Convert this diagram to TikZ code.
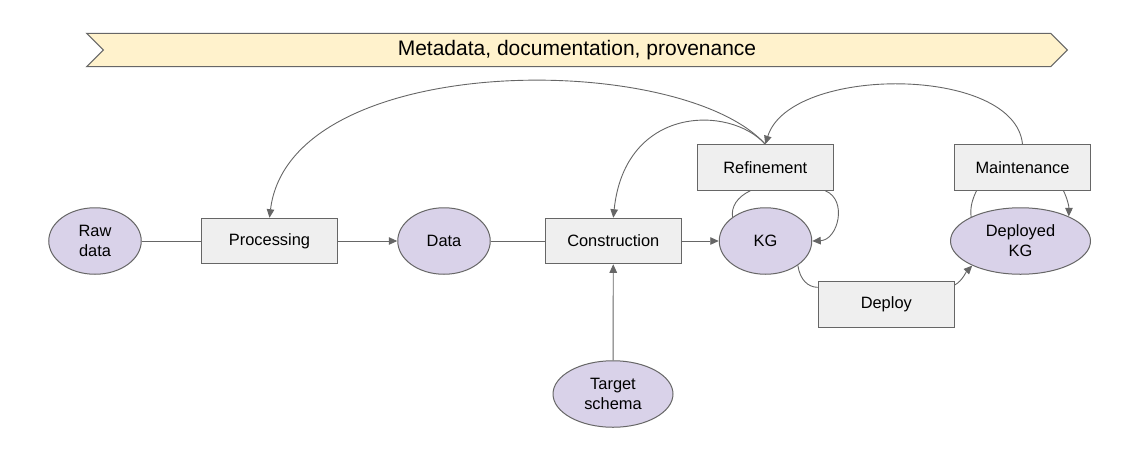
\documentclass[tikz,border=0pt]{standalone}
\usepackage{fontspec}
\setmainfont{Liberation Sans}
\usetikzlibrary{shapes.geometric,arrows.meta}
\definecolor{caixa}{HTML}{EFEFEF}
\definecolor{elipse}{HTML}{D9D2E9}
\definecolor{faixa}{HTML}{FFF2CC}
\definecolor{linha}{HTML}{666666}
\begin{document}
\begin{tikzpicture}[x=1pt, y=-1pt,
        etapa/.style={draw=linha, fill=caixa, line width=1pt, minimum width=136.5pt, minimum height=45.5pt, inner sep=0pt, font=\fontsize{16.4}{20}\selectfont},
        dado/.style={ellipse, draw=linha, fill=elipse, line width=1pt, minimum width=92.5pt, minimum height=66.5pt, inner sep=0pt, align=center, font=\fontsize{16.4}{20}\selectfont},
        liga/.style={draw=linha, line width=0.9pt},
        flecha/.style={liga, -{Triangle[length=8.5pt,width=7.5pt]}}]
        \useasboundingbox (0, 0) rectangle (1130, 451);

        %Faixa
        \draw[draw=linha, fill=faixa, line width=1pt] (86.7, 33.3) -- (1050.7, 33.3) -- (1067.3, 50) -- (1050.7, 66.7) -- (86.7, 66.7) -- (103.3, 50) -- cycle;
        \node (meta) at (577, 50) {\fontsize{21}{25}\selectfont Metadata, documentation, provenance};

        %Elipses
        \node[dado] (raw) at (95, 241) {Raw\\data};
        \node[dado] (data) at (444, 241) {Data};
        \node[dado] (kg) at (765.5, 241) {KG};
        \node[dado, minimum width=140pt] (dkg) at (1020.5, 241) {Deployed\\KG};
        \node[dado, minimum width=120pt] (target) at (613, 394) {Target\\schema};

        %Caixas
        \node[etapa] (proc) at (269.5, 241) {Processing};
        \node[etapa] (constr) at (613.3, 241) {Construction};
        \node[etapa] (refine) at (765.3, 167.5) {Refinement};
        \node[etapa] (maint) at (1022.5, 167.5) {Maintenance};
        \node[etapa] (deploy) at (886.3, 304.5) {Deploy};

        %Retas
        \draw[liga] (raw) -- (proc);
        \draw[flecha] (proc) -- (data);
        \draw[liga] (data) -- (constr);
        \draw[flecha] (constr) -- (kg);
        \draw[flecha] (target) -- (constr);

        %Curvas
        \draw[flecha] (refine.north) .. controls (680, 50) and (290, 50) .. (proc.north);
        \draw[flecha] (refine.north) .. controls (730, 105) and (625, 105) .. (constr.north);
        \draw[flecha] (maint.north) .. controls (1015, 65) and (790, 65) .. (refine.north);
        \draw[liga] ([xshift=-15pt]refine.south) .. controls (737, 197) and (731, 207) .. (kg.144);
        \draw[flecha] ([xshift=60pt]refine.south) .. controls (848, 200) and (838, 240) .. (kg.east);
        \draw[liga] (kg.323) .. controls (800, 280) and (808, 287) .. (deploy.166);
        \draw[flecha] (deploy.16) .. controls (962, 281) and (966, 272) .. (dkg.207);
        \draw[liga] ([xshift=-46pt]maint.south) .. controls (972, 200) and (970, 208) .. (dkg.154);
        \draw[flecha] ([xshift=41pt]maint.south) .. controls (1067, 198) and (1069, 206) .. (dkg.27);

    \end{tikzpicture}
\end{document}
